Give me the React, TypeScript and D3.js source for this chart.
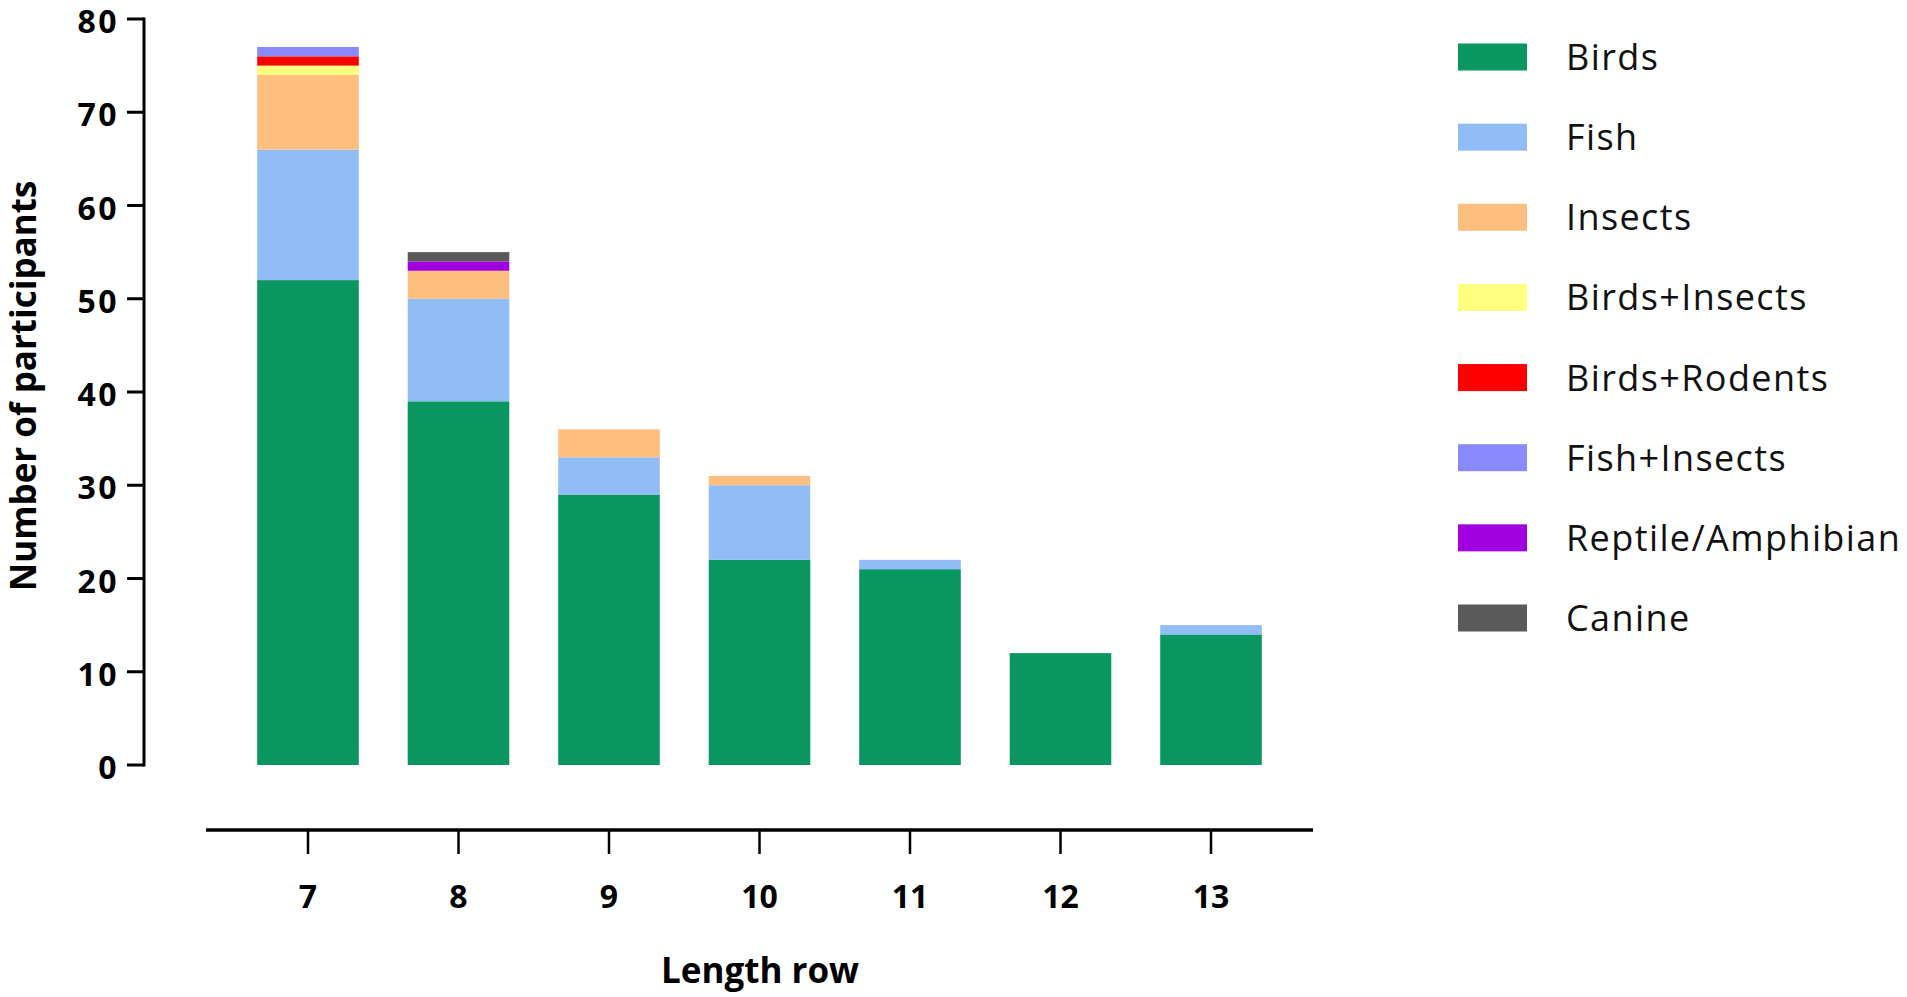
import React from "react";
import * as d3 from "d3";

const categories = ["7", "8", "9", "10", "11", "12", "13"];
const seriesNames = [
  "Birds",
  "Fish",
  "Insects",
  "Birds+Insects",
  "Birds+Rodents",
  "Fish+Insects",
  "Reptile/Amphibian",
  "Canine",
];
const seriesColors = [
  "#0a9660",
  "#90bdf6",
  "#fdbe7e",
  "#ffff80",
  "#ff0000",
  "#8a8aff",
  "#a000e0",
  "#5a5a5a",
];
const birds = [52, 39, 29, 22, 21, 12, 14];
const fish = [14, 11, 4, 8, 1, 0, 1];
const insects = [8, 3, 3, 1, 0, 0, 0];
const birdsInsects = [1, 0, 0, 0, 0, 0, 0];
const birdsRodents = [1, 0, 0, 0, 0, 0, 0];
const fishInsects = [1, 0, 0, 0, 0, 0, 0];
const reptile = [0, 1, 0, 0, 0, 0, 0];
const canine = [0, 1, 0, 0, 0, 0, 0];
const yTicks = [0, 10, 20, 30, 40, 50, 60, 70, 80];

const seriesValues = [birds, fish, insects, birdsInsects, birdsRodents, fishInsects, reptile, canine];

export default function App() {
  const W = 1907;
  const H = 997;
  const y = d3.scaleLinear().domain([0, 80]).range([765, 19]);
  const x = d3.scalePoint<string>().domain(categories).range([308, 1211]).padding(0);
  const barW = x.step() * 0.675;

  const table = categories.map((c, i) => {
    const row: Record<string, number | string> = { cat: c };
    seriesNames.forEach((s, j) => (row[s] = seriesValues[j][i]));
    return row;
  });
  const stacked = d3.stack<Record<string, number | string>>().keys(seriesNames)(table as any);

  const legendY = d3.scalePoint<string>().domain(seriesNames).range([57, 618]);

  const axisFont = "'Open Sans', 'Lato', sans-serif";

  return (
    <svg
      width={W}
      height={H}
      style={{ position: "absolute", left: 0, top: 0, background: "#fff" }}
    >
      {/* bars */}
      {stacked.map((layer, j) => (
        <g key={layer.key} fill={seriesColors[j]}>
          {layer.map((d, i) =>
            d[1] - d[0] > 0 ? (
              <rect
                key={i}
                x={(x(categories[i]) as number) - barW / 2}
                y={y(d[1])}
                width={barW}
                height={y(d[0]) - y(d[1])}
              />
            ) : null
          )}
        </g>
      ))}

      {/* y axis */}
      <line x1={144} x2={144} y1={y(80) - 1.5} y2={y(0) + 1.5} stroke="#000" strokeWidth={3} />
      {yTicks.map((t) => (
        <g key={t}>
          <line x1={127} x2={144} y1={y(t)} y2={y(t)} stroke="#000" strokeWidth={3} />
          <text
            x={119}
            y={y(t) + 14}
            textAnchor="end"
            fontFamily={axisFont}
            fontWeight={700}
            fontSize={32}
            letterSpacing={2.5}
            fill="#000"
          >
            {t}
          </text>
        </g>
      ))}
      <text
        transform={`translate(36,386) rotate(-90)`}
        textAnchor="middle"
        fontFamily={axisFont}
        fontWeight={700}
        fontSize={35}
        fill="#000"
      >
        Number of participants
      </text>

      {/* x axis */}
      <line x1={206} x2={1313} y1={830} y2={830} stroke="#000" strokeWidth={3.5} />
      {categories.map((c) => (
        <g key={c}>
          <line x1={x(c)} x2={x(c)} y1={830} y2={854} stroke="#000" strokeWidth={2.5} />
          <text
            x={x(c)}
            y={908}
            textAnchor="middle"
            fontFamily={axisFont}
            fontWeight={700}
            fontSize={32}
            fill="#000"
          >
            {c}
          </text>
        </g>
      ))}
      <text
        x={760}
        y={983}
        textAnchor="middle"
        fontFamily={axisFont}
        fontWeight={700}
        fontSize={35}
        fill="#000"
      >
        Length row
      </text>

      {/* legend */}
      {seriesNames.map((s, j) => (
        <g key={s}>
          <rect
            x={1458}
            y={(legendY(s) as number) - 13.5}
            width={69}
            height={27}
            fill={seriesColors[j]}
          />
          <text
            x={1566}
            y={(legendY(s) as number) + 13}
            fontFamily={axisFont}
            fontSize={36}
            letterSpacing={1.4}
            fill="#111"
          >
            {s}
          </text>
        </g>
      ))}
    </svg>
  );
}
